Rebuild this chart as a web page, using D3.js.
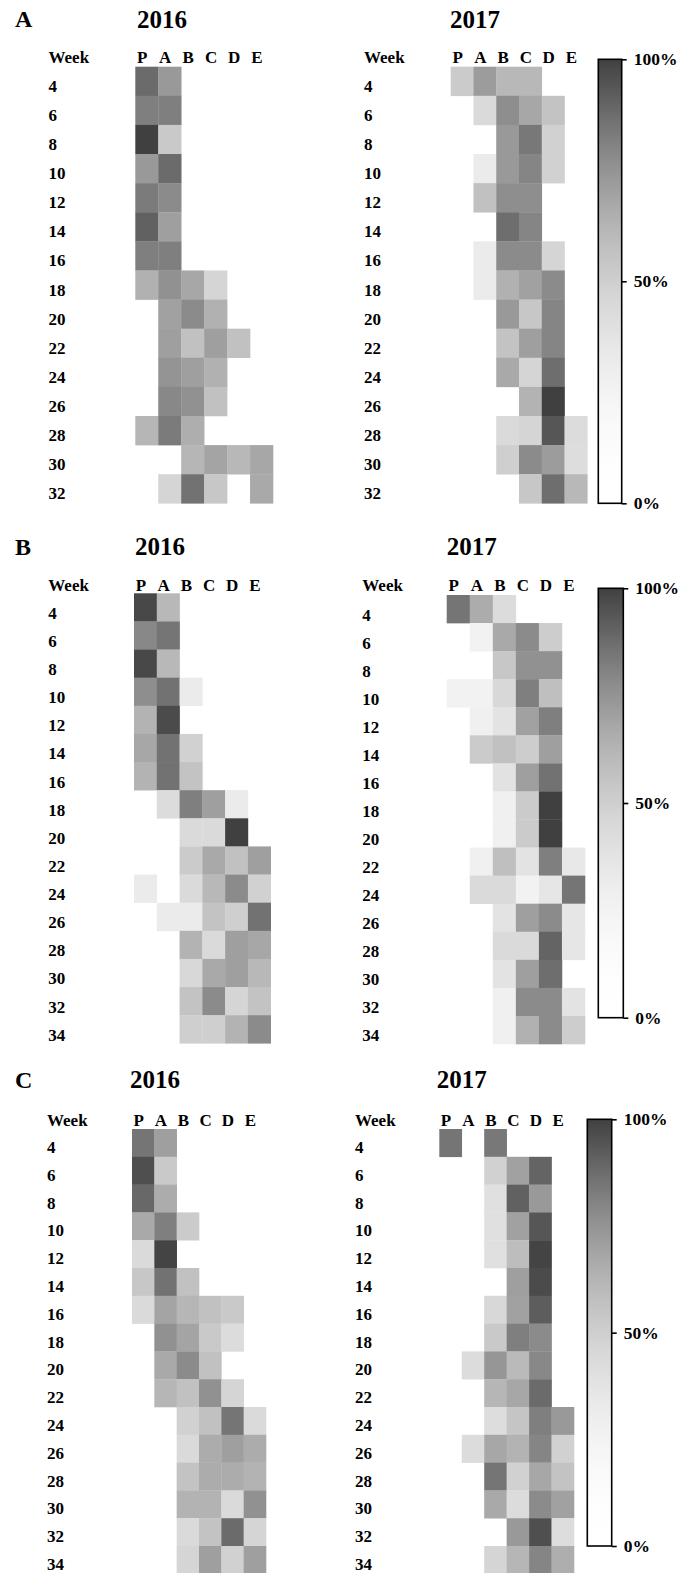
<!DOCTYPE html>
<html>
<head>
<meta charset="utf-8">
<script src="https://cdn.jsdelivr.net/npm/d3@7"></script>
<style>
  body { margin: 0; background: #fff; }
  text { font-family: "Liberation Serif", "Times New Roman", serif; font-weight: bold; fill: #000; }
</style>
</head>
<body>
<svg id="chart" width="683" height="1573"></svg>
<script>
// Categories
const columns = ["P", "A", "B", "C", "D", "E"];
const weeksA = [4, 6, 8, 10, 12, 14, 16, 18, 20, 22, 24, 26, 28, 30, 32];
const weeksBC = [4, 6, 8, 10, 12, 14, 16, 18, 20, 22, 24, 26, 28, 30, 32, 34];
const legendTicks = [0, 50, 100];
const years = ["2016", "2017"];
const panelLetters = ["A", "B", "C"];

// Percentages per week (rows) and group (columns P..E); null = no data
const _ = null;
const panelA2016 = [
  [88, 73, _, _, _, _],
  [82, 82, _, _, _, _],
  [100, 53, _, _, _, _],
  [73, 88, _, _, _, _],
  [83, 78, _, _, _, _],
  [91, 71, _, _, _, _],
  [82, 82, _, _, _, _],
  [64, 76, 68, 47, _, _],
  [_, 70, 78, 64, _, _],
  [_, 71, 57, 71, 57, _],
  [_, 75, 71, 64, _, _],
  [_, 79, 76, 57, _, _],
  [62, 83, 65, _, _, _],
  [_, _, 62, 69, 61, 68],
  [_, 47, 86, 54, _, 67]
];
const panelA2017 = [
  [52, 72, 61, 61, _, _],
  [_, 44, 77, 68, 56, _],
  [_, _, 73, 84, 49, _],
  [_, 32, 73, 80, 49, _],
  [_, 57, 77, 77, _, _],
  [_, _, 87, 80, _, _],
  [_, 32, 78, 78, 47, _],
  [_, 32, 64, 70, 78, _],
  [_, _, 73, 54, 80, _],
  [_, _, 56, 71, 80, _],
  [_, _, 67, 47, 87, _],
  [_, _, _, 63, 100, _],
  [_, _, 44, 47, 94, 43],
  [_, _, 50, 78, 72, 42],
  [_, _, _, 54, 87, 61]
];
const panelB2016 = [
  [98, 61, _, _, _, _],
  [79, 85, _, _, _, _],
  [98, 61, _, _, _, _],
  [77, 86, 32, _, _, _],
  [63, 97, _, _, _, _],
  [68, 86, 49, _, _, _],
  [63, 86, 56, _, _, _],
  [_, 43, 82, 71, 32, _],
  [_, _, 44, 44, 100, _],
  [_, _, 52, 67, 57, 71],
  [32, _, 44, 61, 78, 49],
  [_, 32, 32, 56, 50, 86],
  [_, _, 63, 44, 71, 68],
  [_, _, 45, 67, 71, 61],
  [_, _, 56, 78, 47, 56],
  [_, _, 50, 50, 63, 78]
];
const panelB2017 = [
  [85, 66, 43, _, _, _],
  [_, 26, 67, 78, 51, _],
  [_, _, 54, 76, 76, _],
  [26, 26, 45, 82, 58, _],
  [_, 28, 38, 70, 82, _],
  [_, 52, 57, 51, 71, _],
  [_, _, 39, 71, 86, _],
  [_, _, 28, 52, 100, _],
  [_, _, 28, 52, 100, _],
  [_, 28, 58, 38, 82, 35],
  [_, 44, 44, 26, 36, 85],
  [_, _, 38, 71, 78, 36],
  [_, _, 44, 44, 90, 36],
  [_, _, 38, 71, 87, _],
  [_, _, 28, 78, 78, 38],
  [_, _, 28, 64, 78, 51]
];
const panelC2016 = [
  [85, 71, _, _, _, _],
  [96, 53, _, _, _, _],
  [89, 66, _, _, _, _],
  [67, 82, 52, _, _, _],
  [44, 99, _, _, _, _],
  [54, 86, 57, _, _, _],
  [44, 69, 62, 57, 53, _],
  [_, 76, 69, 53, 43, _],
  [_, 67, 78, 57, _, _],
  [_, 62, 57, 76, 47, _],
  [_, _, 49, 57, 85, 44],
  [_, _, 44, 66, 71, 66],
  [_, _, 56, 66, 66, 63],
  [_, _, 63, 63, 44, 76],
  [_, _, 44, 56, 88, 47],
  [_, _, 47, 71, 49, 71]
];
const panelC2017 = [
  [85, _, 84, _, _, _],
  [_, _, 49, 70, 90, _],
  [_, _, 40, 91, 73, _],
  [_, _, 40, 70, 94, _],
  [_, _, 40, 59, 99, _],
  [_, _, _, 71, 97, _],
  [_, _, 45, 70, 92, _],
  [_, _, 53, 82, 78, _],
  [_, 43, 74, 60, 79, _],
  [_, _, 62, 68, 88, _],
  [_, _, 42, 55, 82, 73],
  [_, 43, 68, 63, 80, 49],
  [_, _, 85, 49, 68, 56],
  [_, _, 67, 43, 78, 70],
  [_, _, _, 73, 96, 42],
  [_, _, 47, 62, 80, 65]
];

// Shared gray scale (0% white -> 100% dark gray)
const color = d3.scalePow().exponent(2).domain([0, 100]).range(["#ffffff", "#404040"]).clamp(true);

// Placement of each panel on the page
const panels = [
  {
    letter: panelLetters[0], letterY: 27, weeks: weeksA,
    bar: { x0: 598.3, x1: 621.7, y0: 59.3, y1: 503.3 },
    maps: [
      { year: years[0], data: panelA2016, titleX: 137, titleY: 27.5, labelX: 48.5, headY: 63.3, x0: 135.3, x1: 273, y0: 66.7, y1: 503.3, rowOff: 10.5 },
      { year: years[1], data: panelA2017, titleX: 450, titleY: 27.5, labelX: 364, headY: 63.3, x0: 450.7, x1: 587.3, y0: 66.7, y1: 503.3, rowOff: 10.5 }
    ]
  },
  {
    letter: panelLetters[1], letterY: 555, weeks: weeksBC,
    bar: { x0: 598.3, x1: 623.3, y0: 588.3, y1: 1017.7 },
    maps: [
      { year: years[0], data: panelB2016, titleX: 135, titleY: 555, labelX: 48.3, headY: 591.3, x0: 134, x1: 270.7, y0: 593.3, y1: 1043.3, rowOff: 11.5 },
      { year: years[1], data: panelB2017, titleX: 446.7, titleY: 555, labelX: 362.3, headY: 591.3, x0: 446.7, x1: 585, y0: 595, y1: 1044, rowOff: 11.5 }
    ]
  },
  {
    letter: panelLetters[2], letterY: 1088, weeks: weeksBC,
    bar: { x0: 587.3, x1: 611.7, y0: 1119.3, y1: 1546 },
    maps: [
      { year: years[0], data: panelC2016, titleX: 130, titleY: 1088, labelX: 47, headY: 1125.7, x0: 132, x1: 266, y0: 1129, y1: 1573.8, rowOff: 10 },
      { year: years[1], data: panelC2017, titleX: 436.7, titleY: 1088, labelX: 355, headY: 1125.7, x0: 439.3, x1: 574, y0: 1129, y1: 1573.8, rowOff: 10 }
    ]
  }
];

const svg = d3.select("#chart");
const defs = svg.append("defs");

// Vertical gradient that follows the gray scale
const grad = defs.append("linearGradient")
  .attr("id", "grayRamp")
  .attr("x1", 0).attr("y1", 1).attr("x2", 0).attr("y2", 0);
d3.range(0, 101, 2).forEach(v => {
  grad.append("stop").attr("offset", v / 100).attr("stop-color", color(v));
});

panels.forEach(p => {
  const g = svg.append("g");

  g.append("text")
    .attr("x", 15).attr("y", p.letterY)
    .style("font-size", "24px")
    .text(p.letter);

  p.maps.forEach(m => {
    const x = d3.scaleBand().domain(columns).range([m.x0, m.x1]);
    const y = d3.scaleBand().domain(p.weeks).range([m.y0, m.y1]);

    g.append("text")
      .attr("x", m.titleX).attr("y", m.titleY)
      .style("font-size", "25px")
      .text(m.year);

    g.append("text")
      .attr("x", m.labelX).attr("y", m.headY)
      .style("font-size", "17px")
      .text("Week");

    g.selectAll(null)
      .data(columns)
      .join("text")
      .attr("x", d => x(d) + x.bandwidth() / 2 - 4.5)
      .attr("y", m.headY)
      .attr("text-anchor", "middle")
      .style("font-size", "17px")
      .text(d => d);

    g.selectAll(null)
      .data(p.weeks)
      .join("text")
      .attr("x", m.labelX)
      .attr("y", d => y(d) + y.bandwidth() / 2 + m.rowOff)
      .style("font-size", "17px")
      .text(d => d);

    const cells = [];
    m.data.forEach((row, i) => row.forEach((v, j) => {
      if (v !== null) cells.push({ week: p.weeks[i], col: columns[j], v });
    }));

    g.selectAll(null)
      .data(cells)
      .join("rect")
      .attr("x", d => x(d.col))
      .attr("y", d => y(d.week))
      .attr("width", x.bandwidth() + 0.3)
      .attr("height", y.bandwidth() + 0.3)
      .attr("fill", d => color(d.v));
  });

  // Color bar with percentage axis
  const b = p.bar;
  g.append("rect")
    .attr("x", b.x0).attr("y", b.y0)
    .attr("width", b.x1 - b.x0).attr("height", b.y1 - b.y0)
    .attr("fill", "url(#grayRamp)")
    .attr("stroke", "#000")
    .attr("stroke-width", 1.6);

  const yBar = d3.scaleLinear().domain([0, 100]).range([b.y1, b.y0]);
  const axis = g.append("g")
    .attr("transform", `translate(${b.x1},0)`)
    .call(d3.axisRight(yBar).tickValues(legendTicks).tickFormat(d => d + "%").tickSize(5).tickPadding(7));
  axis.select(".domain").remove();
  axis.selectAll(".tick line").attr("stroke", "#000").attr("stroke-width", 1.6);
  axis.selectAll(".tick text")
    .attr("fill", "#000")
    .style("font-family", "'Liberation Serif', 'Times New Roman', serif")
    .style("font-weight", "bold")
    .style("font-size", "17.5px");
});
</script>
</body>
</html>
